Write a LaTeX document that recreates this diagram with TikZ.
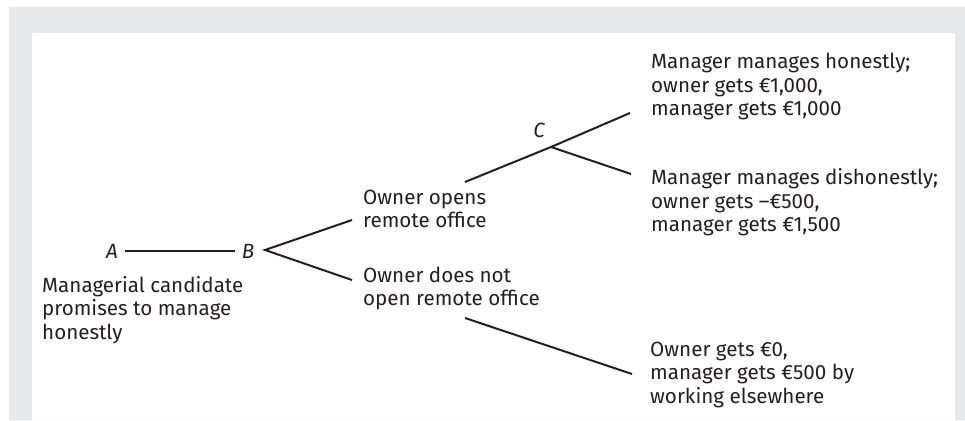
\documentclass[tikz,border=0pt]{standalone}
\usepackage{fontspec}
\setmainfont{Fira Sans}
\definecolor{framegray}{HTML}{E6E8EA}
\definecolor{ink}{HTML}{231F20}
\begin{document}
\begin{tikzpicture}[x=1pt,y=-1pt,
  every node/.style={text=ink},
  % multi-line texts are placed by the baseline of their last line
  txt/.style={anchor=base west,inner sep=0pt,align=left,
    font=\fontsize{20.6}{23.5}\selectfont},
  pt/.style={inner sep=7pt,font=\fontsize{20.6}{23.5}\selectfont\itshape},
  branch/.style={draw=ink,line width=2pt}]
\useasboundingbox (0,0) rectangle (965,420);
% frame around the panel
\fill[framegray,even odd rule] (9,7) rectangle (965,420) (32,33) rectangle (955,420);

% decision points
\node[pt] (A) at (112,251) {A};
\node[pt] (B) at (248,251) {B};
\node[pt,inner sep=0pt] (C) at (539,130) {C};

% outcome texts
\node[txt] (cand) at (42,339) {Managerial candidate\\promises to manage\\honestly};
\node[txt] (open) at (363,227.5) {Owner opens\\remote office};
\node[txt] (noopen) at (363,305.5) {Owner does not\\open remote office};
\node[txt] (hon) at (651,115.5) {Manager manages honestly;\\owner gets €1,000,\\manager gets €1,000};
\node[txt] (dis) at (651,231.5) {Manager manages dishonestly;\\owner gets –€500,\\manager gets €1,500};
\node[txt] (zero) at (650,403) {Owner gets €0,\\manager gets €500 by\\working elsewhere};

% branch points and branch ends
\coordinate (Bfork) at (265,250);
\coordinate (openEnd) at (352,220);
\coordinate (noopenEnd) at (352,280);
\coordinate (Cstart) at (465,182);
\coordinate (Cfork) at (551,147);
\coordinate (honEnd) at (630,113);
\coordinate (disEnd) at (631,174);
\coordinate (zeroStart) at (465,318);
\coordinate (zeroEnd) at (632,374);

% branches
\draw[branch] (A) -- (B);
\draw[branch] (openEnd) -- (Bfork) -- (noopenEnd);
\draw[branch] (Cstart) -- (Cfork) -- (honEnd);
\draw[branch] (Cfork) -- (disEnd);
\draw[branch] (zeroStart) -- (zeroEnd);
\end{tikzpicture}
\end{document}
